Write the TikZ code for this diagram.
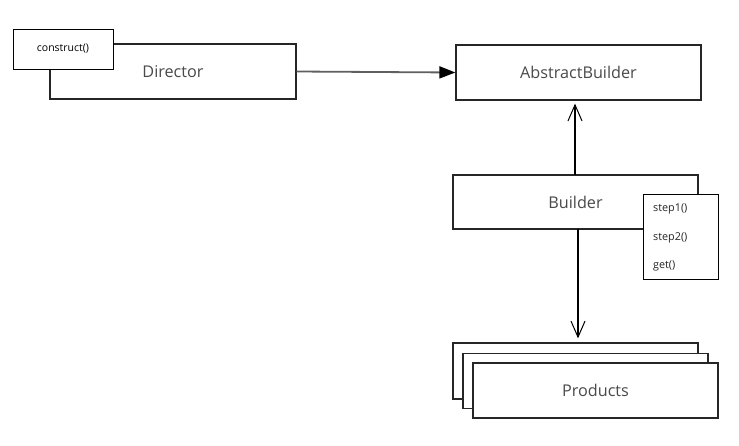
\documentclass[tikz,border=0pt]{standalone}
\usepackage{fontspec}
\setmainfont{Open Sans}
\usetikzlibrary{arrows.meta}
\definecolor{labelgray}{HTML}{4A4A4A}
\definecolor{linegray}{HTML}{606060}
\tikzset{
  box/.style={draw=black!85, line width=1.3pt, fill=white, minimum width=245pt, minimum height=55pt, inner sep=0pt, text=labelgray, font=\fontsize{16.2}{19}\selectfont},
  smallbox/.style={draw=black, line width=1pt, fill=white, inner sep=0pt},
  smalltext/.style={font=\fontsize{10.8}{12}\selectfont, text=black!85, inner sep=0pt, anchor=west},
  openarrow/.style={draw=black, line width=1.1pt, -{Straight Barb[length=16pt,width=14pt,line width=1pt]}},
  fillarrow/.style={draw=linegray, line width=1.8pt, -{Triangle[length=16pt,width=12pt,fill=black,color=black]}},
}
\begin{document}
\begin{tikzpicture}[x=1pt,y=-1pt]
\useasboundingbox[fill=white] (0,0) rectangle (739,445);
% Director with construct()
\node[box, minimum width=246pt] (director) at (173,71.5) {Director};
\node[smallbox, minimum width=100pt, minimum height=40pt, font=\fontsize{10.5}{12}\selectfont] (construct) at (63,49) {construct()};
% AbstractBuilder
\node[box] (abstract) at (578.5,72.5) {AbstractBuilder};
% Builder with methods
\node[box, minimum height=54pt] (builder) at (575.5,202) {Builder};
\node[smallbox, minimum width=75pt, minimum height=85pt] (steps) at (680.5,236.5) {};
\node[smalltext] (s1) at (653,209) {step1()};
\node[smalltext] (s2) at (653,237.5) {step2()};
\node[smalltext] (s3) at (653,265.5) {get()};
% Products stack
\node[box, minimum height=56pt] (p1) at (575.5,371) {};
\node[box] (p2) at (585.5,381) {};
\node[box] (p3) at (595.5,390.5) {Products};
% connectors
\draw[fillarrow] (director.east) -- (abstract.west);
\coordinate (bt) at (575,175);
\coordinate (bb) at (578,229);
\draw[openarrow, shorten >=3pt] (bt) -- (bt |- abstract.south);
\draw[openarrow, shorten >=4pt] (bb) -- (bb |- p1.north);
\end{tikzpicture}
\end{document}
